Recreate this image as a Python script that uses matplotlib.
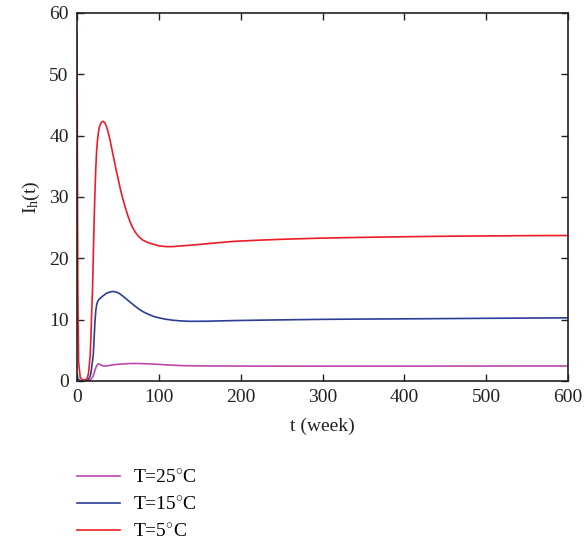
import matplotlib
matplotlib.use("Agg")
import matplotlib.pyplot as plt

# ---- data ----
t_red = [0, 0.5, 1, 2, 4, 8, 12, 14, 16, 17, 18, 19, 20, 21, 22, 23, 24, 25, 26, 27, 28, 30,
         32, 34, 36, 38, 40, 42, 44, 46, 48, 50, 53, 56, 59, 62, 65, 68, 71, 75, 80, 86, 93,
         100, 108, 115, 125, 140, 160, 190, 220, 260, 300, 350, 400, 450, 500, 550, 600]
i_red = [57, 35, 15, 3, 0.5, 0.1, 0.3, 1.2, 4, 7, 11.5, 15, 21, 26.5, 31, 34.8, 37.6, 39.2,
         40.4, 41.2, 41.7, 42.2, 42.35, 42.1, 41.5, 40.6, 39.5, 38.2, 36.9, 35.6, 34.3, 33.1,
         31.3, 29.7, 28.3, 27.0, 25.9, 25.0, 24.3, 23.6, 23.0, 22.6, 22.3, 22.05, 21.92, 21.9,
         22.0, 22.15, 22.4, 22.75, 22.95, 23.15, 23.3, 23.42, 23.52, 23.6, 23.65, 23.7, 23.72]

t_blue = [0, 1, 4, 10, 14, 16, 17, 18, 19, 20, 21, 22, 23, 24, 25, 26, 28, 30, 33, 36, 40, 44,
          48, 52, 56, 60, 65, 70, 75, 80, 86, 93, 100, 108, 116, 126, 138, 160, 190, 240,
          300, 350, 420, 500, 600]
i_blue = [1.0, 0.3, 0.05, 0.05, 0.2, 0.8, 1.3, 2.3, 3.3, 4.5, 7.2, 9.8, 11.5, 12.4, 12.9,
          13.15, 13.45, 13.7, 14.0, 14.3, 14.5, 14.6, 14.5, 14.25, 13.85, 13.4, 12.85, 12.3,
          11.8, 11.35, 10.95, 10.55, 10.3, 10.08, 9.93, 9.8, 9.73, 9.75, 9.85, 9.95, 10.05,
          10.1, 10.15, 10.22, 10.3]

t_mag = [0, 1, 4, 12, 16, 19, 21, 22, 24, 26, 28, 31, 34, 38, 43, 50, 58, 66, 75, 85, 95,
         110, 130, 160, 250, 400, 600]
i_mag = [0.5, 0.2, 0.02, 0.02, 0.1, 0.6, 1.3, 1.8, 2.5, 2.8, 2.7, 2.5, 2.42, 2.5, 2.62, 2.72,
         2.8, 2.85, 2.85, 2.8, 2.75, 2.62, 2.5, 2.45, 2.42, 2.43, 2.45]

labels = ["T=25$^{\\circ}$C", "T=15$^{\\circ}$C", "T=5$^{\\circ}$C"]
colors = ["#bb48ad", "#2b3d96", "#ee1c25"]

xticks = [0, 100, 200, 300, 400, 500, 600]
yticks = [0, 10, 20, 30, 40, 50, 60]

plt.rcParams["font.family"] = ["Liberation Serif", "DejaVu Serif"]
plt.rcParams["mathtext.fontset"] = "custom"
plt.rcParams["mathtext.rm"] = "Liberation Serif"
plt.rcParams["mathtext.it"] = "Liberation Serif:italic"

fig = plt.figure(figsize=(5.86, 5.46), dpi=100)
ax = fig.add_axes([0.1314, 0.3022, 0.8379, 0.674])

lines = []
for t, v, c, lab in zip([t_mag, t_blue, t_red], [i_mag, i_blue, i_red], colors, labels):
    ln, = ax.plot(t, v, color=c, lw=1.2, label=lab)
    lines.append(ln)

ax.set_xlim(0, 600)
ax.set_ylim(0, 60)
ax.set_xticks(xticks)
ax.set_yticks(yticks)
ax.tick_params(direction="in", top=True, right=True, length=5, width=1,
               labelsize=14, pad=6, colors="#222222", labelcolor="#222222")
for s in ax.spines.values():
    s.set_linewidth(1.2)
    s.set_color("#222222")

ax.set_xlabel("t (week)", fontsize=14, color="#222222", labelpad=8)
ax.set_ylabel("I$_\\mathrm{h}$(t)", fontsize=14, color="#222222", labelpad=5)

fig.legend(handles=lines, labels=labels, loc="upper left",
           bbox_to_anchor=(77 / 586, 1 - 469 / 546), frameon=False, fontsize=14,
           handlelength=2.2, handletextpad=0.7, labelspacing=0.5, borderpad=0,
           borderaxespad=0)

fig.savefig("out.png", dpi=100)
